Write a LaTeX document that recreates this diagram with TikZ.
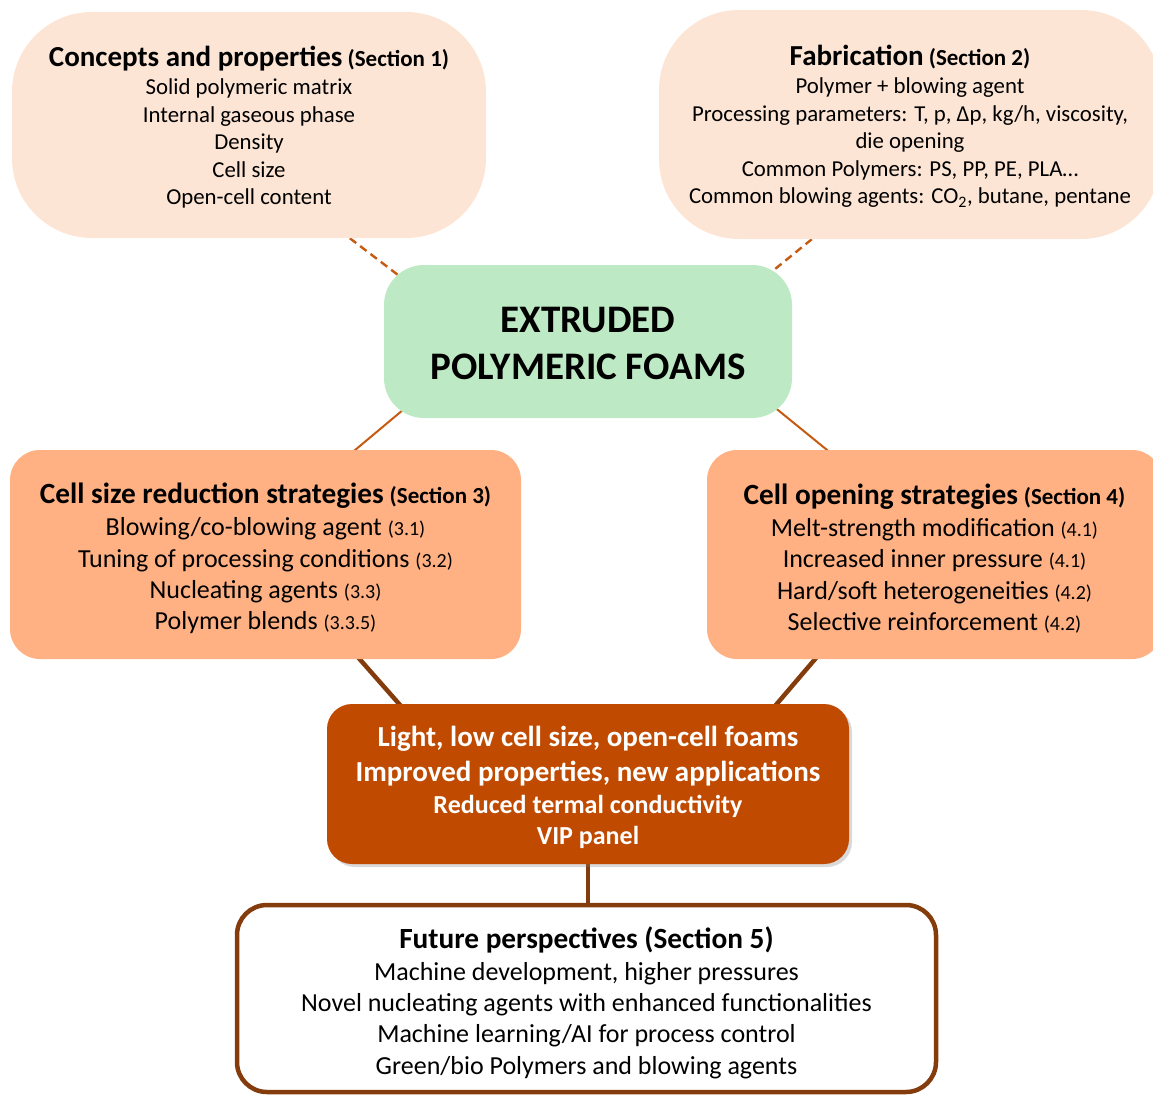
\documentclass[tikz,border=0pt]{standalone}
\usepackage{fontspec}
\setmainfont{Carlito}
\usetikzlibrary{calc,backgrounds,shadows}
\definecolor{peach}{HTML}{FDE5D5}
\definecolor{salmon}{HTML}{FFB183}
\definecolor{mint}{HTML}{BDEAC5}
\definecolor{rust}{HTML}{BF4A00}
\definecolor{brown}{HTML}{843C0C}
\definecolor{conn}{HTML}{C55A11}
\newcommand{\itemA}{\fontsize{22.8}{27.5}\selectfont}
\newcommand{\hdA}{\fontsize{29}{27.5}\selectfont\bfseries}
\newcommand{\scA}{\fontsize{23}{27.5}\selectfont\bfseries}
\newcommand{\itemB}{\fontsize{26}{31.3}\selectfont}
\newcommand{\hdB}{\fontsize{29.3}{31.3}\selectfont\bfseries}
\newcommand{\scB}{\fontsize{23}{31.3}\selectfont\bfseries}
\newcommand{\numB}{\fontsize{20}{31.3}\selectfont}
\begin{document}
\begin{tikzpicture}[x=1pt,y=-1pt,
  box/.style={inner sep=0pt},
  txt/.style={inner sep=0pt, align=center, text=black},
  dashcon/.style={draw=conn, line width=2.4pt, dash pattern=on 8pt off 5pt},
  thincon/.style={draw=conn, line width=2pt},
  thickcon/.style={draw=brown, line width=4.5pt}]
\useasboundingbox (0,0) rectangle (1153,1095);
\clip (0,0) rectangle (1153,1095);

% boxes
\node[box, fill=peach, rounded corners=80pt, minimum width=474pt, minimum height=226pt] (b1) at (249,125) {};
\node[box, fill=peach, rounded corners=80pt, minimum width=502pt, minimum height=229pt] (b2) at (910,124.5) {};
\node[box, fill=mint, rounded corners=40pt, minimum width=408pt, minimum height=153pt] (c) at (588,341.5) {};
\node[box, fill=salmon, rounded corners=30pt, minimum width=511pt, minimum height=209pt] (b3) at (265.5,554.5) {};
\node[box, fill=salmon, rounded corners=30pt, minimum width=455pt, minimum height=209pt] (b4) at (934.5,554.5) {};
\node[box, fill=rust, rounded corners=25pt, minimum width=522pt, minimum height=160pt,
  drop shadow={opacity=0.3, shadow xshift=3pt, shadow yshift=-3pt}] (b5) at (588,784) {};
\node[box, fill=white, draw=brown, line width=4.5pt, rounded corners=30pt, minimum width=699pt, minimum height=187pt] (b6) at (586.5,998.5) {};

% texts
\node[txt, font=\itemA] (t1) at ($(b1.center)+(0,2)$)
 {{\hdA Concepts and properties} {\scA (Section 1)}\\[1pt]
  Solid polymeric matrix\\ Internal gaseous phase\\ Density\\ Cell size\\ Open-cell content};

\node[txt, font=\itemA] (t2) at ($(b2.center)+(0,2)$)
 {{\hdA Fabrication} {\scA (Section 2)}\\[1pt]
  Polymer + blowing agent\\ Processing parameters: T, p, Δp, kg/h, viscosity,\\ die opening\\
  Common Polymers: PS, PP, PE, PLA…\\ Common blowing agents: CO\textsubscript{2}, butane, pentane};

\node[txt, font=\fontsize{39}{47}\selectfont\bfseries] (tc) at ($(c.center)+(0,2)$)
 {EXTRUDED\\ POLYMERIC FOAMS};

\node[txt, font=\itemB] (t3) at ($(b3.center)+(0,4)$)
 {{\hdB Cell size reduction strategies} {\scB (Section 3)}\\[1pt]
  Blowing/co-blowing agent {\numB (3.1)}\\ Tuning of processing conditions {\numB (3.2)}\\
  Nucleating agents {\numB (3.3)}\\ Polymer blends {\numB (3.3.5)}};

\node[txt, font=\itemB] (t4) at ($(b4.center)+(0,4)$)
 {{\hdB Cell opening strategies} {\scB (Section 4)}\\[1pt]
  Melt-strength modification {\numB (4.1)}\\ Increased inner pressure {\numB (4.1)}\\
  Hard/soft heterogeneities {\numB (4.2)}\\ Selective reinforcement {\numB (4.2)}};

\node[txt, text=white, font=\fontsize{29}{35}\selectfont\bfseries] (t5) at ($(b5.center)+(0,3)$)
 {Light, low cell size, open-cell foams\\ Improved properties, new applications\\[-3pt]
  {\fontsize{26}{31}\selectfont Reduced termal conductivity}\\[-4pt] {\fontsize{26}{31}\selectfont VIP panel}};

\node[txt, font=\itemB] (t6) at ($(b6.center)+(0,4)$)
 {{\hdB Future perspectives (Section 5)}\\[1pt]
  Machine development, higher pressures\\ Novel nucleating agents with enhanced functionalities\\
  Machine learning/AI for process control\\ Green/bio Polymers and blowing agents};

\begin{scope}[on background layer]
\draw[dashcon] ($(b1.south west)+(338,0)$) -- ($(c.north west)+(14,10)$);
\draw[dashcon] ($(b2.south west)+(153,0)$) -- ($(c.north east)+(-28,13)$);
\draw[thincon] ($(c.south west)+(26,-14)$) -- ($(b3.north west)+(336,8)$);
\draw[thincon] ($(c.south east)+(-22,-14.5)$) -- ($(b4.north west)+(128,6.5)$);
\draw[thickcon] ($(b3.south west)+(342,-9)$) -- ($(b5.north west)+(81,10)$);
\draw[thickcon] ($(b4.south west)+(115,-8)$) -- ($(b5.north east)+(-80,9)$);
\draw[thickcon] (b5.south) -- (b5.south |- b6.north);
\end{scope}
\end{tikzpicture}
\end{document}
